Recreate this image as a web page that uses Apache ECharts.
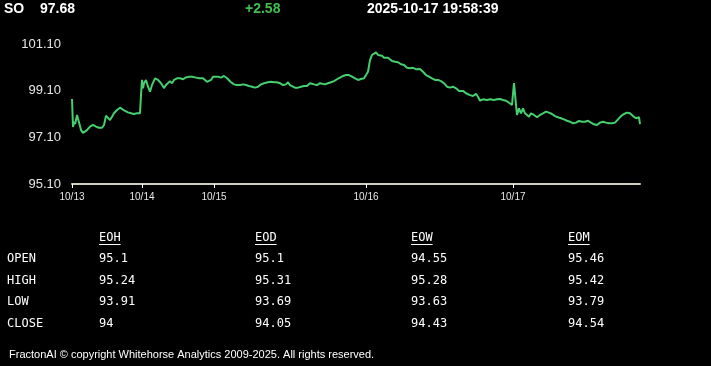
<!DOCTYPE html>
<html>
<head>
<meta charset="utf-8">
<script src="https://cdn.jsdelivr.net/npm/echarts@6/dist/echarts.min.js"></script>
<style>
html,body{margin:0;padding:0;background:#000;}
#chart{width:711px;height:366px;}
</style>
</head>
<body>
<div id="chart"></div>
<script>
// ---- header ----
var symbol = 'SO';
var lastPrice = '97.68';
var change = '+2.58';
var stamp = '2025-10-17 19:58:39';

// ---- x axis (session sample index) ----
var dayLabels = ['10/13', '10/14', '10/15', '10/16', '10/17'];
var dayStartIdx = [0, 70, 142, 294, 441];
var lastIdx = 568;

// ---- y axis ----
var yTicks = [95.1, 97.1, 99.1, 101.1];

// ---- price series ----
var sampleIdx = [0,1,2,3,4,5,6,7,8,9,11,13,15,18,21,24,27,30,32,34,36,38,40,42,45,48,50,53,56,59,62,65,68,
69,70,71,72,74,76,78,80,83,86,89,92,94,96,98,100,102,105,108,111,114,117,120,123,125,127,129,131,133,135,137,139,
141,143,146,149,152,155,157,159,162,165,168,171,174,177,180,183,186,189,192,193,196,199,202,205,208,211,214,216,218,220,223,226,229,232,235,238,240,242,245,248,250,253,256,259,262,265,268,271,274,277,280,283,286,289,292,
294,296,298,300,302,304,306,308,310,312,314,316,318,320,323,326,329,332,335,338,341,344,346,348,351,354,357,360,363,366,369,372,375,378,381,384,387,391,394,398,401,404,406,408,411,415,418,422,425,428,431,434,437,440,
441,442,443,444,445,447,449,451,453,455,457,459,462,465,468,471,474,477,480,483,486,489,492,495,498,501,504,507,510,513,516,519,522,525,528,531,534,537,540,543,546,549,552,555,558,561,564,566,567,568];
var prices = [98.74,97.54,97.77,97.67,97.84,98.06,98.14,98.01,97.59,97.41,97.29,97.34,97.41,97.56,97.63,97.56,97.51,97.51,97.63,98.03,97.98,97.84,97.98,98.13,98.27,98.37,98.34,98.23,98.17,98.13,98.10,98.13,98.13,
98.90,99.56,99.20,99.42,99.56,99.27,99.06,99.34,99.63,99.56,99.42,99.21,99.34,99.42,99.51,99.42,99.56,99.63,99.63,99.59,99.67,99.70,99.70,99.67,99.63,99.63,99.60,99.63,99.63,99.48,99.42,99.56,
99.70,99.67,99.70,99.66,99.73,99.63,99.59,99.46,99.37,99.34,99.34,99.37,99.34,99.30,99.27,99.23,99.27,99.37,99.42,99.46,99.46,99.48,99.46,99.46,99.42,99.34,99.37,99.46,99.34,99.27,99.23,99.23,99.27,99.30,99.30,99.42,99.48,99.37,99.34,99.42,99.34,99.37,99.42,99.46,99.51,99.59,99.66,99.73,99.77,99.77,99.70,99.63,99.56,99.60,99.63,
99.66,99.91,100.41,100.63,100.66,100.74,100.63,100.56,100.60,100.51,100.56,100.51,100.49,100.37,100.34,100.32,100.23,100.20,100.08,100.06,100.08,100.02,100.08,100.03,99.91,99.77,99.70,99.63,99.56,99.56,99.51,99.42,99.27,99.23,99.27,99.20,99.09,99.09,98.99,98.91,98.87,98.96,98.84,98.67,98.73,98.70,98.73,98.70,98.73,98.74,98.70,98.67,98.58,98.49,
98.49,99.42,99.34,98.49,98.06,98.34,98.13,98.34,98.13,98.20,97.98,98.13,98.06,97.96,98.06,98.13,98.20,98.16,98.10,98.01,97.96,97.92,97.87,97.81,97.77,97.70,97.73,97.80,97.77,97.77,97.81,97.73,97.66,97.63,97.73,97.77,97.73,97.70,97.70,97.73,97.87,98.01,98.10,98.16,98.13,98.01,97.92,97.84,97.96,97.67];

// ---- table ----
var rowLabels = ['OPEN', 'HIGH', 'LOW', 'CLOSE'];
var colHeaders = ['EOH', 'EOD', 'EOW', 'EOM'];
var eohVals = ['95.1', '95.24', '93.91', '94'];
var eodVals = ['95.1', '95.31', '93.69', '94.05'];
var eowVals = ['94.55', '95.28', '93.63', '94.43'];
var eomVals = ['95.46', '95.42', '93.79', '94.54'];

var footer = 'FractonAI \u00a9 copyright Whitehorse Analytics 2009-2025. All rights reserved.';

var seriesData = sampleIdx.map(function (x, i) { return [x, prices[i]]; });

var SANS = '"Liberation Sans", Arial, sans-serif';
var MONO = '"DejaVu Sans Mono", "Liberation Mono", monospace';

var graphics = [
  { type: 'text', x: 4, y: 9, style: { text: symbol, fill: '#fff', font: 'bold 14px ' + SANS, verticalAlign: 'middle' } },
  { type: 'text', x: 40, y: 9, style: { text: lastPrice, fill: '#fff', font: 'bold 14px ' + SANS, verticalAlign: 'middle' } },
  { type: 'text', x: 245, y: 9, style: { text: change, fill: '#3fbf4c', font: 'bold 14px ' + SANS, verticalAlign: 'middle' } },
  { type: 'text', x: 367, y: 9, style: { text: stamp, fill: '#fff', font: 'bold 14px ' + SANS, verticalAlign: 'middle' } },
  { type: 'text', x: 9, y: 355, style: { text: footer, fill: '#fff', font: '11px ' + SANS, verticalAlign: 'middle' } }
];

var colX = [99, 255, 411, 568];
var rowY = [259, 281, 302, 324];
var colVals = [eohVals, eodVals, eowVals, eomVals];
colHeaders.forEach(function (h, c) {
  graphics.push({ type: 'text', x: colX[c], y: 238, style: { text: h, fill: '#fff', font: '12px ' + MONO, verticalAlign: 'middle' } });
  graphics.push({ type: 'line', shape: { x1: colX[c], y1: 244.5, x2: colX[c] + h.length * 7.22, y2: 244.5 }, style: { stroke: '#fff', lineWidth: 1 } });
  colVals[c].forEach(function (v, r) {
    graphics.push({ type: 'text', x: colX[c], y: rowY[r], style: { text: v, fill: '#fff', font: '12px ' + MONO, verticalAlign: 'middle' } });
  });
});
rowLabels.forEach(function (l, r) {
  graphics.push({ type: 'text', x: 7, y: rowY[r], style: { text: l, fill: '#fff', font: '12px ' + MONO, verticalAlign: 'middle' } });
});

var chart = echarts.init(document.getElementById('chart'), null, { renderer: 'canvas' });
chart.setOption({
  backgroundColor: '#000',
  animation: false,
  grid: { left: 72, right: 71, top: 44, height: 140, containLabel: false },
  xAxis: {
    type: 'value', min: 0, max: lastIdx,
    axisLine: { show: true, lineStyle: { color: '#cfcfbf', width: 2 } },
    axisTick: { show: true, customValues: dayStartIdx, length: 4, lineStyle: { color: '#fff', width: 1 } },
    axisLabel: {
      show: true, customValues: dayStartIdx, color: '#e6e6e6', fontSize: 10, fontFamily: SANS, margin: 8,
      formatter: function (v) { var i = dayStartIdx.indexOf(v); return i >= 0 ? dayLabels[i] : ''; }
    },
    splitLine: { show: false }
  },
  yAxis: {
    type: 'value', min: yTicks[0], max: yTicks[yTicks.length - 1],
    axisLine: { show: false }, axisTick: { show: false },
    axisLabel: {
      customValues: yTicks, color: '#e6e6e6', fontSize: 13, fontFamily: SANS, margin: 11,
      formatter: function (v) { return v.toFixed(2); }
    },
    splitLine: { show: false }
  },
  series: [{
    type: 'line', data: seriesData, showSymbol: false, smooth: false,
    lineStyle: { color: '#45cf6e', width: 2 }, silent: true
  }],
  graphic: graphics
});
</script>
</body>
</html>
